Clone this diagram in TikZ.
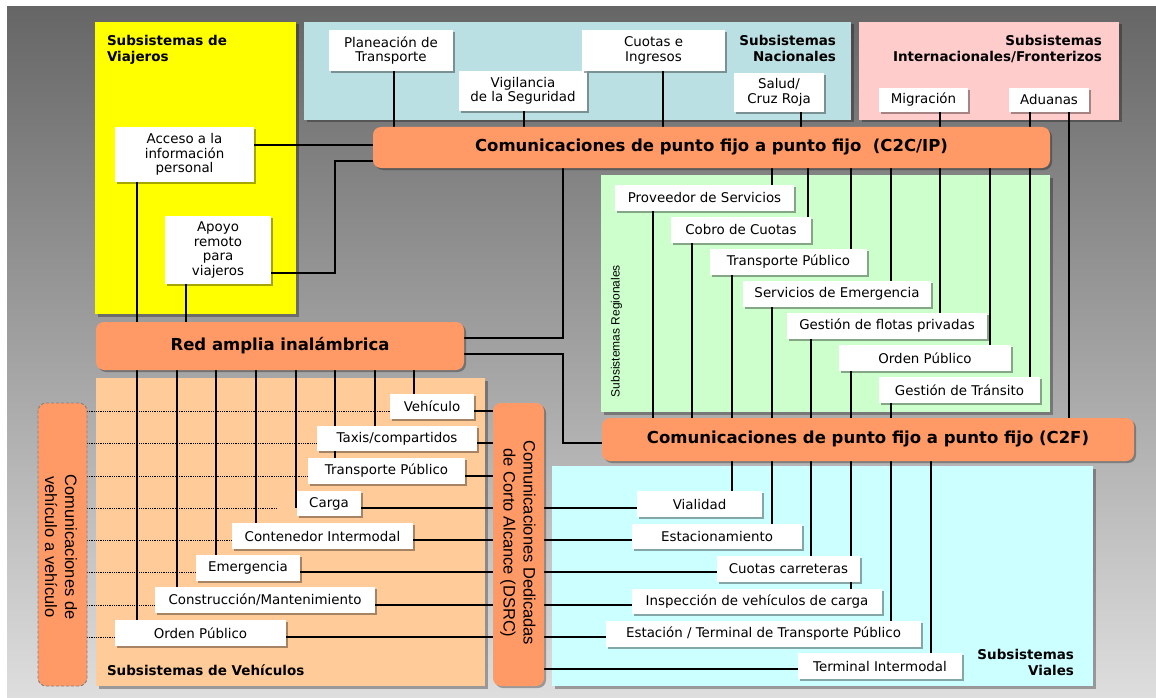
\documentclass[tikz,border=0pt]{standalone}
\usepackage{fontspec}
\setmainfont{DejaVu Sans}
\newfontfamily\arialf{Liberation Sans}
\usetikzlibrary{shadows}
\pgfdeclarelayer{back}
\pgfdeclarelayer{conn}
\pgfsetlayers{back,conn,main}
\definecolor{yelc}{HTML}{FFFF00}
\definecolor{natc}{HTML}{BBE0E3}
\definecolor{intc}{HTML}{FFCCCC}
\definecolor{barc}{HTML}{FF9966}
\definecolor{regc}{HTML}{CCFFCC}
\definecolor{viac}{HTML}{CCFFFF}
\definecolor{vehc}{HTML}{FFCC99}
\newcommand\place[7]{\node[#2, minimum width={#5-#3}, minimum height={#6-#4}] (#1) at ({(#3+#5)/2},{(#4+#6)/2}) {#7};}
\tikzset{
 panel/.style={draw=none, inner sep=0, outer sep=0, drop shadow={shadow xshift=2.5pt, shadow yshift=-2.5pt, fill=black, opacity=0.3}},
 wbox/.style={fill=white, inner sep=0, outer sep=0, align=center, font=\fontsize{13.4}{14.6}\selectfont, drop shadow={shadow xshift=2pt, shadow yshift=-2pt, fill=black, opacity=0.35}},
 bar/.style={fill=barc, rounded corners=8pt, inner sep=0, outer sep=0, font=\fontsize{16.5}{19}\selectfont\bfseries, drop shadow={shadow xshift=2pt, shadow yshift=-2pt, fill=black, opacity=0.3}},
 vbar/.style={fill=barc, rounded corners=8pt, inner sep=0, outer sep=0, draw=black!50, line width=0.9pt, dash pattern=on 3pt off 2pt},
 conn/.style={line width=1.1pt, black},
 dotl/.style={line width=0.7pt, black, dash pattern=on 0.9pt off 0.9pt},
 plabel/.style={font=\fontsize{13.5}{16}\selectfont\bfseries, inner sep=0, outer sep=0},
 rotlabel/.style={font=\arialf\fontsize{16.5}{20}\selectfont, align=center, inner sep=0, rotate=-90}
}
\begin{document}
\begin{tikzpicture}[x=1pt,y=-1pt]
\useasboundingbox (0,0) rectangle (1156,698);
\begin{pgfonlayer}{back}
\fill[white] (0,0) rectangle (1156,698);
\shade[top color=black!60, bottom color=black!13] (7,7) rectangle (1156,698);
\place{pyel}{panel,fill=yelc}{95}{22}{296}{314}{}
\place{pnat}{panel,fill=natc}{304}{22}{851}{120}{}
\place{pint}{panel,fill=intc}{859}{22}{1119}{120}{}
\place{preg}{panel,fill=regc}{601}{175}{1050}{412}{}
\place{pvia}{panel,fill=viac}{552}{466}{1093}{686}{}
\place{pveh}{panel,fill=vehc}{96}{378}{485}{686}{}
\end{pgfonlayer}
% panel labels
\node[plabel, anchor=north west, align=left] (ylab) at (107,35.5) {Subsistemas de\\Viajeros};
\node[plabel, anchor=north east, align=right] (nlab) at (836,35.5) {Subsistemas\\Nacionales};
\node[plabel, anchor=north east, align=right] (ilab) at (1102,35.5) {Subsistemas\\Internacionales/Fronterizos};
\node[plabel, anchor=north east, align=right] (vlab) at (1074,649) {Subsistemas\\Viales};
\node[plabel, anchor=west] (hlab) at (107,670) {Subsistemas de Vehículos};
\node[font=\arialf\fontsize{12}{14}\selectfont, rotate=90, inner sep=0] (rlab) at (616.5,331) {Subsistemas Regionales};
% bars
\place{c2c}{bar}{373}{127}{1050}{168}{Comunicaciones de punto fijo a punto fijo\ \ (C2C/IP)}
\place{c2f}{bar}{602}{418}{1134}{461}{Comunicaciones de punto fijo a punto fijo (C2F)}
\place{red}{bar}{96}{322}{464}{370}{Red amplia inalámbrica}
\place{dsrc}{bar}{493}{403}{544}{686}{}
\place{v2v}{vbar}{38}{403}{87}{686}{}
\node[rotlabel] (dsrct) at (518,543) {Comunicaciones Dedicadas\\de Corto Alcance (DSRC)};
\node[rotlabel] (v2vt) at (61,547) {Comunicaciones de\\vehículo a vehículo};
% travellers
\place{acc}{wbox}{115}{127}{254}{182}{Acceso a la\\información\\personal}
\place{apo}{wbox}{165}{216}{271}{284}{Apoyo\\remoto\\para\\viajeros}
% national
\place{plan}{wbox}{329}{30}{453}{71}{Planeación de\\Transporte}
\place{vig}{wbox}{459}{71}{587}{111}{Vigilancia\\de la Seguridad}
\place{cuo}{wbox}{582}{30}{725}{71}{Cuotas e\\Ingresos}
\place{sal}{wbox}{734}{73}{824}{112}{Salud/\\Cruz Roja}
% international
\place{mig}{wbox}{879}{88}{968}{112}{Migración}
\place{adu}{wbox}{1009}{88}{1089}{112}{Aduanas}
% regional
\place{prov}{wbox}{615}{185}{794}{211}{Proveedor de Servicios}
\place{cob}{wbox}{671}{217}{811}{243}{Cobro de Cuotas}
\place{tp}{wbox}{710}{249}{867}{275}{Transporte Público}
\place{se}{wbox}{743}{281}{931}{307}{Servicios de Emergencia}
\place{gfp}{wbox}{787}{313}{987}{339}{Gestión de flotas privadas}
\place{op}{wbox}{839}{345}{1011}{371}{Orden Público}
\place{gt}{wbox}{879}{377}{1040}{403}{Gestión de Tránsito}
% viales
\place{via}{wbox}{637}{491}{762}{517}{Vialidad}
\place{est}{wbox}{632}{524}{802}{549}{Estacionamiento}
\place{cc}{wbox}{717}{556}{860}{582}{Cuotas carreteras}
\place{insp}{wbox}{632}{589}{882}{614}{Inspección de vehículos de carga}
\place{etp}{wbox}{606}{621}{921}{647}{Estación / Terminal de Transporte Público}
\place{ti}{wbox}{798}{653}{962}{679}{Terminal Intermodal}
% vehicles
\place{veh}{wbox}{390}{394}{474}{419}{Vehículo}
\place{tax}{wbox}{317}{426}{477}{451}{Taxis/compartidos}
\place{vtp}{wbox}{308}{458}{465}{484}{Transporte Público}
\place{car}{wbox}{297}{491}{361}{516}{Carga}
\place{ci}{wbox}{232}{523}{413}{549}{Contenedor Intermodal}
\place{em}{wbox}{196}{555}{300}{581}{Emergencia}
\place{cm}{wbox}{155}{587}{375}{613}{Construcción/Mantenimiento}
\place{vop}{wbox}{115}{620}{286}{646}{Orden Público}
% helper coordinates
\foreach \v in {137,177,186,216,256,277,296,335,375,394,414,524,563,653,663,692,732,772,801,808,811,851,891,931,940,990,1030,1069}
  \coordinate (x\v) at (\v,0);
\foreach \v in {145,161,273,338,354,411,443,476,508,540,572,605,637,669}
  \coordinate (y\v) at (0,\v);
\begin{pgfonlayer}{conn}
% travellers
\draw[conn] (acc.east |- y145) -- (c2c.west |- y145);
\draw[conn] (apo.east |- y273) -| (x335 |- y161) -- (c2c.west |- y161);
\draw[conn] (acc.south -| x137) -- (red.north -| x137);
\draw[conn] (apo.south -| x186) -- (red.north -| x186);
% national / international
\foreach \n/\x in {plan/394, vig/524, cuo/663, sal/801, mig/940, adu/1030}
  \draw[conn] (\n.south -| x\x) -- (c2c.north -| x\x);
\draw[conn] (adu.south -| x1069) -- (c2f.north -| x1069);
% regional
\foreach \n/\x in {prov/772, cob/808, tp/851, se/891, gfp/940, op/990, gt/1030}
  \draw[conn] (c2c.south -| x\x) -- (\n.north -| x\x);
\foreach \n/\x in {prov/653, cob/692, tp/732, se/772, gfp/811, op/851, gt/891}
  \draw[conn] (\n.south -| x\x) -- (c2f.north -| x\x);
% backbone links
\draw[conn] (c2c.south -| x563) |- (red.east |- y338);
\draw[conn] (red.east |- y354) -| (x563 |- y443) -- (c2f.west |- y443);
% viales
\foreach \n/\x in {via/732, est/772, cc/811, insp/851, etp/891, ti/931}
  \draw[conn] (c2f.south -| x\x) -- (\n.north -| x\x);
\foreach \n/\y in {via/508, est/540, cc/572, insp/605, etp/637, ti/669}
  \draw[conn] (dsrc.east |- y\y) -- (\n.west |- y\y);
% vehicles
\foreach \n/\y in {veh/411, tax/443, vtp/476, ci/540, em/572, cm/605, vop/637}
  \draw[dotl] (v2v.east |- y\y) -- (\n.west |- y\y);
\draw[dotl] (v2v.east |- y508) -- (x277 |- y508);
\foreach \n/\x in {veh/414, tax/375, vtp/335, ci/256, em/216, cm/177, vop/137}
  \draw[conn] (red.south -| x\x) -- (\n.north -| x\x);
\draw[conn] (red.south -| x296) -- (x296 |- y508);
\foreach \n/\y in {veh/411, tax/443, vtp/476, car/508, ci/540, em/572, cm/605, vop/637}
  \draw[conn] (\n.east |- y\y) -- (dsrc.west |- y\y);
\end{pgfonlayer}
\end{tikzpicture}
\end{document}
